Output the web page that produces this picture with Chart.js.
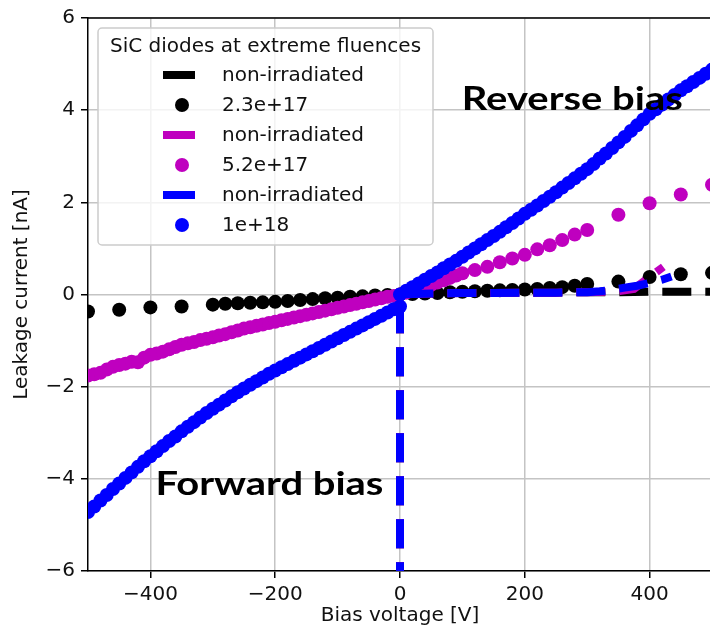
<!DOCTYPE html>
<html>
<head>
<meta charset="utf-8">
<script src="https://cdn.jsdelivr.net/npm/chart.js@4/dist/chart.umd.min.js"></script>
<style>
  html, body { margin: 0; padding: 0; background: #ffffff; overflow: hidden; width: 710px; height: 632px; }
  #wrap { position: relative; width: 720px; height: 632px; }
</style>
</head>
<body>
<div id="wrap"><canvas id="iv" width="720" height="632"></canvas></div>
<script>
// Leakage current [nA] versus bias voltage [V] for SiC diodes

const legendTitle = 'SiC diodes at extreme fluences';
const xTicks = [-400, -200, 0, 200, 400];
const yTicks = [-6, -4, -2, 0, 2, 4, 6];

// non-irradiated reference curves (forward branch shoots off-scale at 0 V)
const refBlackVolts   = [0, 0, 50, 100, 150, 200, 250, 300, 350, 400, 450, 500];
const refBlackCurrent = [-80, 0, 0.02, 0.03, 0.03, 0.04, 0.04, 0.05, 0.05, 0.06, 0.06, 0.06];

const refMagentaVolts   = [0, 0, 50, 100, 150, 200, 250, 300, 350, 375, 390, 405, 422];
const refMagentaCurrent = [-80, 0, 0.02, 0.03, 0.03, 0.04, 0.04, 0.05, 0.07, 0.12, 0.28, 0.43, 0.60];

const refBlueVolts   = [0, 0, 50, 100, 150, 200, 250, 300, 320, 340, 360, 380, 400, 420, 435];
const refBlueCurrent = [-80, 0, 0.02, 0.03, 0.03, 0.04, 0.04, 0.05, 0.07, 0.10, 0.15, 0.19, 0.25, 0.32, 0.39];

// fluence 2.3e+17
const blackVolts = [-500, -450, -400, -350, -300, -280, -260, -240, -220, -200, -180, -160, -140, -120, -100, -80, -60, -40, -20, 0,
  20, 40, 60, 80, 100, 120, 140, 160, 180, 200, 220, 240, 260, 280, 300, 350, 400, 450, 500];
const blackCurrent = [-0.37, -0.33, -0.28, -0.26, -0.22, -0.20, -0.19, -0.18, -0.17, -0.16, -0.14, -0.12, -0.10, -0.08, -0.07, -0.05, -0.04, -0.02, -0.01, 0,
  0.01, 0.02, 0.03, 0.05, 0.06, 0.07, 0.08, 0.09, 0.10, 0.11, 0.12, 0.14, 0.16, 0.19, 0.23, 0.28, 0.38, 0.44, 0.47];

// fluence 5.2e+17
const magentaVolts = [-500, -490, -480, -470, -460, -450, -440, -430, -420, -410, -400, -390, -380, -370, -360, -350, -340, -330, -320, -310,
  -300, -290, -280, -270, -260, -250, -240, -230, -220, -210, -200, -190, -180, -170, -160, -150, -140, -130, -120, -110,
  -100, -90, -80, -70, -60, -50, -40, -30, -20, -10, 0,
  10, 20, 30, 40, 50, 60, 70, 80, 90, 100, 120, 140, 160, 180, 200, 220, 240, 260, 280, 300, 350, 400, 450, 500];
const magentaCurrent = [-1.76, -1.73, -1.70, -1.63, -1.57, -1.53, -1.50, -1.46, -1.47, -1.37, -1.31, -1.28, -1.24, -1.19, -1.14, -1.09, -1.06, -1.03, -0.99, -0.96,
  -0.93, -0.89, -0.86, -0.82, -0.78, -0.74, -0.71, -0.68, -0.65, -0.62, -0.59, -0.56, -0.53, -0.50, -0.47, -0.44, -0.41, -0.38, -0.35, -0.32,
  -0.29, -0.26, -0.23, -0.20, -0.17, -0.14, -0.11, -0.08, -0.05, -0.03, 0,
  0.04, 0.08, 0.12, 0.17, 0.21, 0.26, 0.31, 0.36, 0.41, 0.46, 0.53, 0.60, 0.70, 0.78, 0.86, 0.98, 1.07, 1.18, 1.30, 1.40, 1.73, 1.98, 2.17, 2.38];

// fluence 1e+18
const blueVolts = [-500, -490, -480, -470, -460, -450, -440, -430, -420, -410, -400, -390, -380, -370, -360, -350, -340, -330, -320, -310,
  -300, -290, -280, -270, -260, -250, -240, -230, -220, -210, -200, -190, -180, -170, -160, -150, -140, -130, -120, -110,
  -100, -90, -80, -70, -60, -50, -40, -30, -20, -10, 0,
  0, 10, 20, 30, 40, 50, 60, 70, 80, 90, 100, 110, 120, 130, 140, 150, 160, 170, 180, 190,
  200, 210, 220, 230, 240, 250, 260, 270, 280, 290, 300, 310, 320, 330, 340, 350, 360, 370, 380, 390,
  400, 410, 420, 430, 440, 450, 460, 470, 480, 490, 500];
const blueCurrent = [-4.72, -4.60, -4.47, -4.35, -4.22, -4.10, -3.98, -3.86, -3.74, -3.62, -3.51, -3.40, -3.29, -3.18, -3.08, -2.97, -2.87, -2.77, -2.67, -2.57,
  -2.48, -2.39, -2.30, -2.21, -2.12, -2.04, -1.96, -1.88, -1.80, -1.72, -1.65, -1.58, -1.51, -1.44, -1.37, -1.30, -1.23, -1.16, -1.09, -1.02,
  -0.95, -0.88, -0.81, -0.74, -0.67, -0.60, -0.53, -0.46, -0.39, -0.32, -0.26,
  0.00, 0.08, 0.16, 0.24, 0.32, 0.40, 0.48, 0.57, 0.65, 0.73, 0.82, 0.91, 1.00, 1.09, 1.18, 1.27, 1.36, 1.46, 1.55, 1.65,
  1.75, 1.84, 1.93, 2.03, 2.12, 2.22, 2.32, 2.42, 2.52, 2.62, 2.72, 2.83, 2.95, 3.06, 3.18, 3.30, 3.42, 3.55, 3.67, 3.80,
  3.92, 4.02, 4.12, 4.23, 4.33, 4.43, 4.52, 4.61, 4.70, 4.79, 4.88];

const BLACK = '#000000';
const MAGENTA = '#bf00bf';
const BLUE = '#0000ff';
const FONT = '"DejaVu Sans", sans-serif';
const TEXT_SIZE = 20;

function pts(xs, ys) { return xs.map((x, i) => ({ x: x, y: ys[i] })); }

function refLine(label, xs, ys, color, order) {
  return {
    label: label, data: pts(xs, ys), showLine: true, borderColor: color, backgroundColor: color,
    borderWidth: 8, borderDash: [29, 14], borderDashOffset: 7, borderCapStyle: 'butt',
    pointRadius: 0, pointHoverRadius: 0, tension: 0, order: order, clip: 0, kind: 'line'
  };
}
function dots(label, xs, ys, color, order) {
  return {
    label: label, data: pts(xs, ys), showLine: false, backgroundColor: color, borderColor: color,
    borderWidth: 0, pointRadius: 7, pointHoverRadius: 7, pointBorderWidth: 0, order: order, clip: 0, kind: 'dot'
  };
}

const datasets = [
  refLine('non-irradiated', refBlackVolts, refBlackCurrent, BLACK, 6),
  dots('2.3e+17', blackVolts, blackCurrent, BLACK, 5),
  refLine('non-irradiated', refMagentaVolts, refMagentaCurrent, MAGENTA, 4),
  dots('5.2e+17', magentaVolts, magentaCurrent, MAGENTA, 3),
  refLine('non-irradiated', refBlueVolts, refBlueCurrent, BLUE, 2),
  dots('1e+18', blueVolts, blueCurrent, BLUE, 1)
];

function minusFmt(v) { return v < 0 ? '\u2212' + Math.abs(v) : String(v); }

// frame on top and right, legend box, and the bias annotations
const decorations = {
  id: 'decorations',
  afterDraw(chart, args, opts) {
    const ctx = chart.ctx;
    const a = chart.chartArea;
    const xs = chart.scales.x, ys = chart.scales.y;
    ctx.save();
    ctx.strokeStyle = '#000';
    ctx.lineWidth = 1.5;
    ctx.beginPath();
    ctx.moveTo(a.left, a.top); ctx.lineTo(a.right, a.top);
    ctx.moveTo(a.right, a.top); ctx.lineTo(a.right, a.bottom);
    ctx.stroke();

    // annotations
    ctx.fillStyle = '#000';
    ctx.font = 'bold ' + opts.noteSize + 'px Lato, sans-serif';
    ctx.textAlign = 'left';
    ctx.textBaseline = 'alphabetic';
    opts.notes.forEach(n => {
      ctx.save();
      ctx.translate(xs.getPixelForValue(n.v), ys.getPixelForValue(n.i));
      ctx.scale(opts.noteStretch, 1);
      ctx.fillText(n.text, 0, 0);
      ctx.restore();
    });

    // legend
    const L = opts.legend;
    const bx = a.left + L.inset, by = a.top + L.inset;
    ctx.beginPath();
    ctx.roundRect(bx, by, L.w, L.h, 4);
    ctx.fillStyle = 'rgba(255,255,255,0.8)';
    ctx.fill();
    ctx.strokeStyle = '#cccccc';
    ctx.lineWidth = 1.5;
    ctx.stroke();

    ctx.fillStyle = '#111';
    ctx.font = TEXT_SIZE + 'px ' + FONT;
    ctx.textAlign = 'center';
    ctx.textBaseline = 'middle';
    ctx.fillText(legendTitle, bx + L.w / 2, by + L.titleY);

    chart.data.datasets.forEach((ds, i) => {
      const cy = by + L.rowY0 + i * L.rowGap;
      const hx = bx + L.handleX;
      if (ds.kind === 'line') {
        ctx.strokeStyle = ds.borderColor;
        ctx.lineWidth = 8;
        ctx.beginPath();
        ctx.moveTo(hx, cy); ctx.lineTo(hx + L.handleLen, cy);
        ctx.stroke();
      } else {
        ctx.fillStyle = ds.backgroundColor;
        ctx.beginPath();
        ctx.arc(hx + L.handleLen / 2 + 3, cy, 7, 0, Math.PI * 2);
        ctx.fill();
      }
      ctx.fillStyle = '#111';
      ctx.textAlign = 'left';
      ctx.fillText(ds.label, bx + L.textX, cy + 1);
    });
    ctx.restore();
  }
};

new Chart(document.getElementById('iv'), {
  type: 'scatter',
  data: { datasets: datasets },
  options: {
    responsive: false,
    animation: false,
    devicePixelRatio: 1,
    layout: { padding: { top: 15, right: 8, bottom: 0, left: 0 } },
    plugins: {
      legend: { display: false },
      tooltip: { enabled: false },
      decorations: {
        noteSize: 33,
        noteStretch: 1.21,
        notes: [
          { text: 'Reverse bias', v: 99, i: 4.0 },
          { text: 'Forward bias', v: -392, i: -4.34 }
        ],
        legend: { inset: 10, w: 335, h: 217, titleY: 19, rowY0: 47, rowGap: 30, handleX: 65, handleLen: 32, textX: 124 }
      }
    },
    scales: {
      x: {
        type: 'linear', min: -500, max: 500,
        afterBuildTicks: s => { s.ticks = xTicks.map(v => ({ value: v })); },
        afterFit: s => { s.height = 61; },
        ticks: { color: '#111', font: { family: FONT, size: TEXT_SIZE }, padding: 5, callback: minusFmt, maxRotation: 0 },
        grid: { color: '#c4c4c4', lineWidth: 1.5, drawTicks: true, tickLength: 7, tickColor: '#000', tickWidth: 1.5 },
        border: { display: true, color: '#000', width: 1.5 },
        title: { display: true, text: 'Bias voltage [V]', color: '#111', font: { family: FONT, size: TEXT_SIZE }, padding: { top: 2, bottom: 4 } }
      },
      y: {
        type: 'linear', min: -6, max: 6,
        afterBuildTicks: s => { s.ticks = yTicks.map(v => ({ value: v })); },
        afterFit: s => { s.width = 88; },
        ticks: { color: '#111', font: { family: FONT, size: TEXT_SIZE }, padding: 6, callback: minusFmt },
        grid: { color: '#c4c4c4', lineWidth: 1.5, drawTicks: true, tickLength: 7, tickColor: '#000', tickWidth: 1.5 },
        border: { display: true, color: '#000', width: 1.5 },
        title: { display: true, text: 'Leakage current [nA]', color: '#111', font: { family: FONT, size: TEXT_SIZE }, padding: { top: 10, bottom: 2 } }
      }
    }
  },
  plugins: [decorations]
});
</script>
</body>
</html>
